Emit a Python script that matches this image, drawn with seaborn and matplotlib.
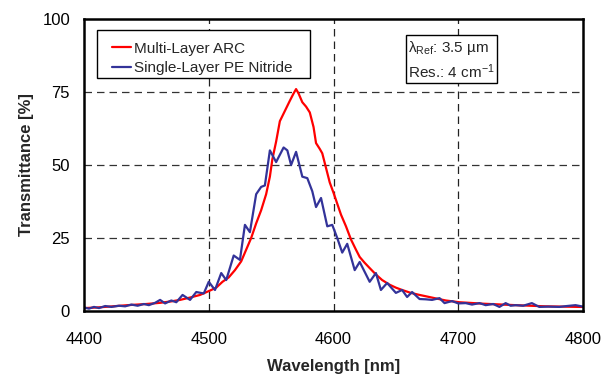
import numpy as np
import pandas as pd
import matplotlib
matplotlib.use("Agg")
import matplotlib.pyplot as plt
from matplotlib.patches import Rectangle
import seaborn as sns

# ---- data ----
wl_multi = [4400, 4410, 4420, 4435, 4450, 4461, 4470, 4477, 4485, 4493, 4501, 4506, 4511, 4516,
            4521, 4526, 4530, 4534, 4538, 4542, 4546, 4549, 4551, 4554, 4557, 4561, 4565, 4568,
            4570, 4572, 4575, 4578, 4581, 4584, 4586, 4589, 4591, 4594, 4597, 4600, 4602, 4606,
            4610, 4614, 4618, 4621, 4625, 4629, 4634, 4639, 4645, 4650, 4655, 4662, 4669, 4680,
            4690, 4701, 4720, 4746, 4770, 4797, 4800]
t_multi = [1.0, 1.2, 1.5, 2.0, 2.4, 2.8, 3.3, 3.8, 4.6, 5.5, 7.0, 8.0, 10.0, 11.5,
           14.0, 17.0, 21.0, 25.0, 30.0, 34.5, 40.0, 46.0, 52.0, 58.0, 65.0, 68.5, 72.0, 74.5,
           76.0, 74.5, 71.5, 70.0, 68.0, 63.0, 57.5, 55.5, 54.0, 49.0, 44.0, 40.5, 38.0, 33.0,
           29.0, 24.5, 21.0, 18.5, 16.5, 14.7, 12.5, 10.6, 9.0, 8.0, 7.2, 6.2, 5.5, 4.5,
           3.6, 3.0, 2.5, 2.0, 1.6, 1.4, 1.4]

wl_single = [4400, 4404, 4408, 4412, 4417, 4422, 4428, 4433, 4438, 4443, 4448, 4452, 4457, 4461,
             4465, 4470, 4474, 4479, 4485, 4490, 4496, 4500, 4505, 4510, 4514, 4520, 4525, 4529,
             4533, 4538, 4542, 4545, 4549, 4554, 4560, 4563, 4566, 4570, 4575, 4579, 4583, 4586,
             4590, 4595, 4599, 4603, 4607, 4611, 4617, 4621, 4629, 4634, 4638, 4643, 4650, 4655,
             4659, 4663, 4669, 4674, 4679, 4685, 4689, 4695, 4700, 4706, 4711, 4717, 4722, 4728,
             4733, 4738, 4742, 4746, 4752, 4759, 4765, 4772, 4781, 4787, 4794, 4800]
t_single = [1.2, 0.8, 1.4, 1.0, 1.7, 1.4, 1.8, 1.6, 2.2, 1.8, 2.4, 2.0, 2.8, 3.8,
            2.6, 3.6, 3.0, 5.5, 3.8, 6.5, 6.0, 10.0, 7.2, 13.0, 10.6, 19.0, 17.5, 29.5,
            27.0, 40.0, 42.5, 43.0, 55.0, 51.0, 56.0, 55.0, 50.0, 54.5, 46.0, 45.5, 41.0, 35.6,
            38.7, 29.0, 29.5, 25.0, 20.0, 23.0, 14.0, 16.8, 10.0, 13.0, 7.2, 9.6, 6.2, 7.2,
            4.8, 6.5, 4.1, 4.0, 3.8, 4.4, 2.7, 3.4, 2.6, 2.7, 2.2, 2.7, 2.0, 2.4,
            1.4, 2.7, 1.8, 2.0, 1.8, 2.7, 1.4, 1.5, 1.4, 1.7, 2.0, 1.5]

series_names = ["Multi-Layer ARC", "Single-Layer PE Nitride"]
x_ticks = [4400, 4500, 4600, 4700, 4800]
y_ticks = [0, 25, 50, 75, 100]

sns.set_theme(style="white")
plt.rcParams["font.family"] = ["Liberation Sans", "DejaVu Sans"]
plt.rcParams["mathtext.fontset"] = "custom"
plt.rcParams["mathtext.rm"] = "Liberation Sans"
plt.rcParams["mathtext.it"] = "Liberation Sans:italic"

df = pd.concat([
    pd.DataFrame({"wl": wl_multi, "T": t_multi, "s": series_names[0]}),
    pd.DataFrame({"wl": wl_single, "T": t_single, "s": series_names[1]}),
])

fig, ax = plt.subplots(figsize=(6.12, 3.76), dpi=100)
fig.subplots_adjust(left=84/612, right=583/612, bottom=1-311/376, top=1-19/376)

sns.lineplot(data=df, x="wl", y="T", hue="s", hue_order=series_names,
             palette=["#FF0000", "#333399"], linewidth=1.6, ax=ax, sort=False,
             estimator=None)

ax.set_xlim(4400, 4800)
ax.set_ylim(0, 100)
ax.set_xticks(x_ticks)
ax.set_yticks(y_ticks)
ax.tick_params(axis="both", direction="in", length=4, width=1, colors="black",
               labelsize=12)
ax.tick_params(axis="x", pad=15)
ax.tick_params(axis="y", pad=10)

for v in [4500, 4600, 4700]:
    ax.axvline(v, color="#222222", lw=0.9, ls=(0, (6, 4)), zorder=0)
for v in [25, 50, 75]:
    ax.axhline(v, color="#333333", lw=0.9, ls=(0, (6, 4)), zorder=0)

for sp in ax.spines.values():
    sp.set_visible(True)
    sp.set_color("black")
    sp.set_linewidth(1.8)

ax.set_xlabel("Wavelength [nm]", fontsize=12, fontweight="bold", labelpad=9)
ax.set_ylabel("Transmittance [%]", fontsize=12, fontweight="bold", labelpad=6)

# legend frame drawn as a box, legend entries placed inside it
ax.add_patch(Rectangle((0.026, 0.798), 0.427, 0.164, transform=ax.transAxes,
                       fc="white", ec="black", lw=1.0, zorder=4))
leg = ax.legend(loc="upper left", bbox_to_anchor=(0.056, 0.922), frameon=False,
                fontsize=11, handlelength=1.25, handletextpad=0.2, borderpad=0,
                labelspacing=0.36, borderaxespad=0)
leg.set_zorder(5)
leg.set_title(None)

ax.text(0.650, 0.93, "λ$_{\\mathrm{Ref}}$: 3.5 µm\nRes.: 4 cm$^{-1}$",
        transform=ax.transAxes, ha="left", va="top", fontsize=11, linespacing=1.3,
        bbox=dict(boxstyle="square,pad=0.15", fc="white", ec="black", lw=1.0))

fig.savefig("out.png", dpi=100)
